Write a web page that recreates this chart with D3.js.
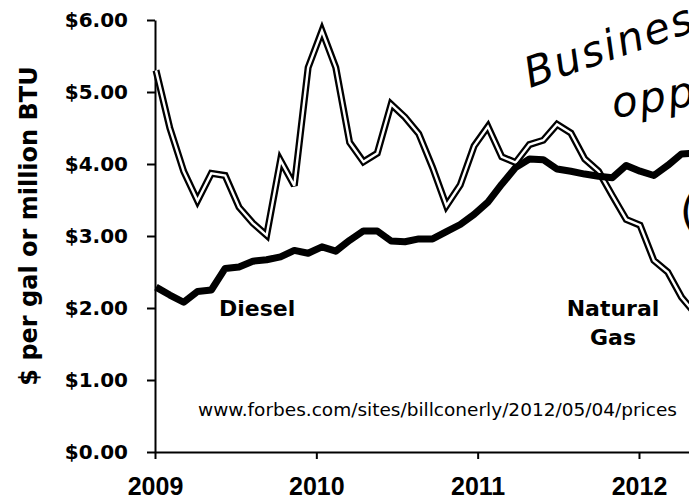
<!DOCTYPE html>
<html>
<head>
<meta charset="utf-8">
<script src="https://cdn.jsdelivr.net/npm/d3@7"></script>
<style>
	body { margin: 0; background: #fff; }
	svg { display: block; }
	.axis path, .axis line { stroke: #000; stroke-width: 2; }
	.axis text { font-family: "DejaVu Sans", sans-serif; font-weight: bold; fill: #000; }
</style>
</head>
<body>
<svg></svg>
<script>
// monthly prices, Jan 2009 .. Apr 2012
var months = d3.timeMonth.range(new Date(2009, 0, 1), new Date(2012, 4, 1));

var naturalGas = [
	5.30, 4.50, 3.90, 3.49, 3.87, 3.84, 3.40, 3.18, 3.01, 4.05, 3.70, 5.34,
	5.85, 5.34, 4.30, 4.03, 4.15, 4.83, 4.65, 4.42, 3.95, 3.42, 3.71, 4.25,
	4.52, 4.10, 4.02, 4.27, 4.33, 4.55, 4.43, 4.07, 3.90, 3.56, 3.23, 3.15,
	2.66, 2.50, 2.15, 1.92
];

var diesel = [
	2.29, 2.18, 2.08, 2.23, 2.25, 2.55, 2.57, 2.65, 2.67, 2.71, 2.80, 2.76,
	2.85, 2.79, 2.94, 3.07, 3.07, 2.93, 2.92, 2.96, 2.96, 3.06, 3.16, 3.30,
	3.47, 3.72, 3.95, 4.07, 4.06, 3.93, 3.90, 3.86, 3.83, 3.81, 3.98, 3.90,
	3.84, 3.98, 4.14, 4.15
];

var yTicks = [0, 1, 2, 3, 4, 5, 6];
var yearTicks = [2009, 2010, 2011, 2012];

var width = 689,
	height = 499;

var svg = d3
	.select("svg")
	.attr("width", width)
	.attr("height", height);

svg
	.append("rect")
	.attr("width", width)
	.attr("height", height)
	.attr("fill", "#fff");

var yScale = d3.scaleLinear().domain([0, 6]).range([452, 20]);

// year labels sit on their own scale, the monthly points run slightly wider
var yearScale = d3.scaleLinear().domain([2009, 2012.31]).range([155, 689]);

var xScale = d3
	.scaleLinear()
	.domain([0, months.length - 1])
	.range([156, 156 + (months.length - 1) * 13.83]);

var series = months.map(function(m, i) {
	return { i: i, date: m, gas: naturalGas[i], diesel: diesel[i] };
});

// axes
var yAxis = d3
	.axisLeft(yScale)
	.tickValues(yTicks)
	.tickSize(8)
	.tickSizeOuter(0)
	.tickPadding(19)
	.tickFormat(d3.format("$.2f"));

var xAxis = d3
	.axisBottom(yearScale)
	.tickValues(yearTicks)
	.tickSize(7)
	.tickSizeOuter(0)
	.tickPadding(18)
	.tickFormat(d3.format("d"));

var gy = svg
	.append("g")
	.attr("class", "axis y-axis")
	.attr("transform", "translate(155,0)")
	.call(yAxis);

gy.selectAll("text").attr("font-size", 20);

var gx = svg
	.append("g")
	.attr("class", "axis x-axis")
	.attr("transform", "translate(0,452)")
	.call(xAxis);

gx.selectAll("text")
	.attr("font-size", 25)
	.style("font-family", "'Liberation Sans', Arial, sans-serif");

svg
	.append("text")
	.attr("transform", "translate(37,226) rotate(-90)")
	.attr("text-anchor", "middle")
	.attr("font-family", "DejaVu Sans, sans-serif")
	.attr("font-weight", "bold")
	.attr("font-size", 24)
	.text("$ per gal or million BTU");

// lines
var lineGas = d3
	.line()
	.x(function(d) { return xScale(d.i); })
	.y(function(d) { return yScale(d.gas); });

var lineDiesel = d3
	.line()
	.x(function(d) { return xScale(d.i); })
	.y(function(d) { return yScale(d.diesel); });

var plot = svg.append("g").attr("class", "lines");

plot
	.append("path")
	.datum(series)
	.attr("d", lineGas)
	.attr("fill", "none")
	.attr("stroke", "#000")
	.attr("stroke-width", 7)
	.attr("stroke-linejoin", "miter")
	.attr("stroke-miterlimit", 3);

plot
	.append("path")
	.datum(series)
	.attr("d", lineGas)
	.attr("fill", "none")
	.attr("stroke", "#fff")
	.attr("stroke-width", 2.4)
	.attr("stroke-linejoin", "miter")
	.attr("stroke-miterlimit", 3);

plot
	.append("path")
	.datum(series)
	.attr("d", lineDiesel)
	.attr("fill", "none")
	.attr("stroke", "#000")
	.attr("stroke-width", 7)
	.attr("stroke-linejoin", "round");

// labels
var labels = svg
	.append("g")
	.attr("font-family", "DejaVu Sans, sans-serif")
	.attr("font-weight", "bold")
	.attr("font-size", 22)
	.attr("fill", "#000");

labels.append("text").attr("x", 219).attr("y", 316).text("Diesel");

labels
	.append("text")
	.attr("x", 613)
	.attr("y", 316)
	.attr("text-anchor", "middle")
	.text("Natural");

labels
	.append("text")
	.attr("x", 613)
	.attr("y", 345)
	.attr("text-anchor", "middle")
	.text("Gas");

svg
	.append("text")
	.attr("x", 198)
	.attr("y", 416)
	.attr("font-family", "DejaVu Sans, sans-serif")
	.attr("font-size", 18.5)
	.attr("fill", "#000")
	.text("www.forbes.com/sites/billconerly/2012/05/04/prices");

// handwritten note, cut off at the right edge as in the original
var note = svg
	.append("g")
	.attr("font-family", "DejaVu Sans, sans-serif")
	.attr("font-style", "italic")
	.attr("font-size", 42)
	.attr("fill", "#000");

note
	.append("text")
	.attr("transform", "translate(530,88) rotate(-19)")
	.attr("letter-spacing", 2)
	.text("Business");

note
	.append("text")
	.attr("transform", "translate(614,118) rotate(-9)")
	.attr("letter-spacing", 2)
	.text("opportunity");

note
	.append("text")
	.attr("transform", "translate(680,226)")
	.attr("font-style", "normal")
	.text("(");
</script>
</body>
</html>
